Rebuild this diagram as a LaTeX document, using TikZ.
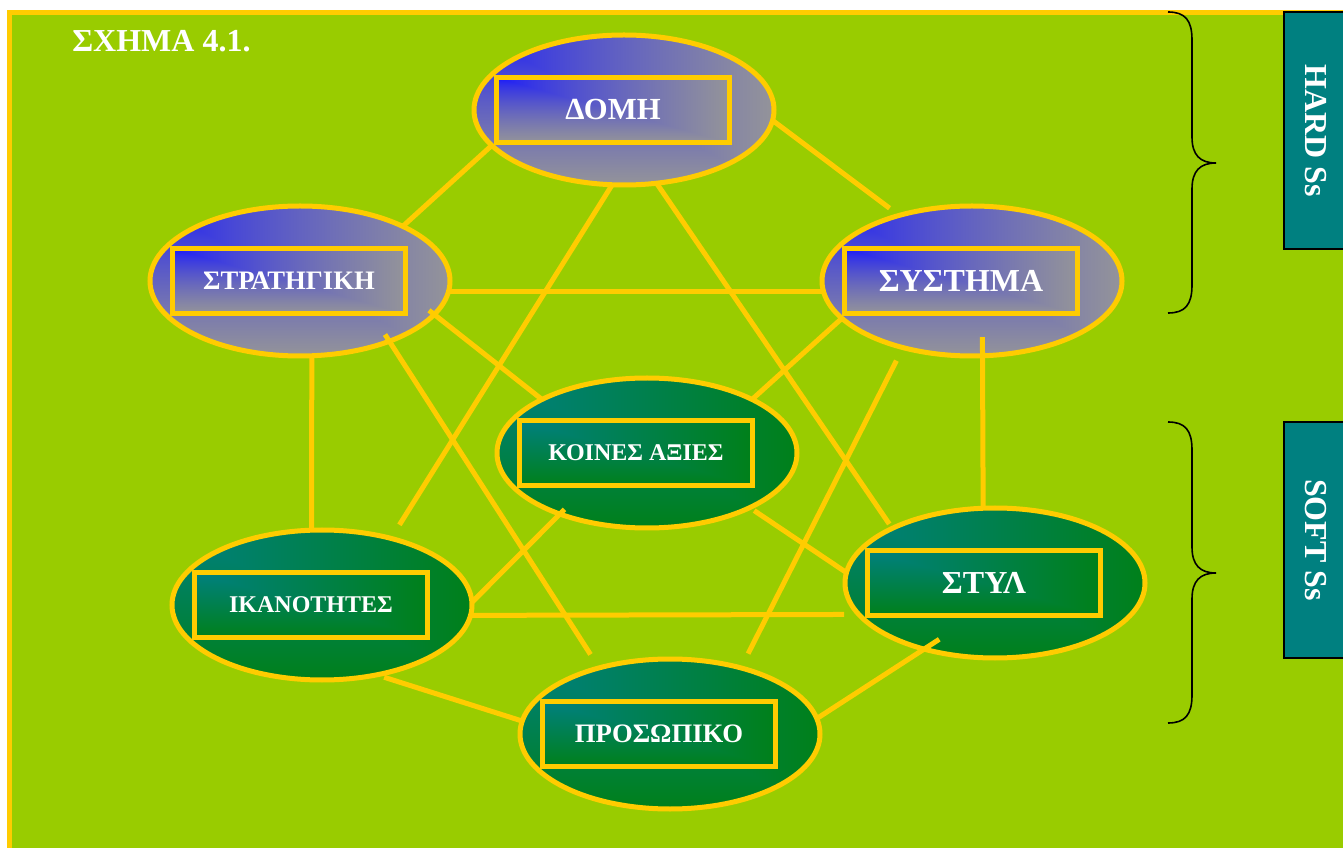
\documentclass[tikz,border=0pt]{standalone}
\usepackage{fontspec}
\setmainfont{Liberation Serif}
\usepackage{tikz}
\usetikzlibrary{shapes.geometric,calc}

\definecolor{bggreen}{HTML}{99CC00}
\definecolor{linkyellow}{HTML}{FFCC00}
\definecolor{sideteal}{HTML}{008080}

% blue corner fading to grey (upper ovals)
\pgfdeclarefunctionalshading{hardshade}{\pgfpoint{-50bp}{-50bp}}{\pgfpoint{50bp}{50bp}}{}{
  25 exch sub 50 div exch 25 add 50 div
  2 copy lt {exch} if pop
  dup 1 gt {pop 1} if dup 0 lt {pop 0} if
  0.7 exp
  dup 0.5 mul 0.08 add exch
  dup 0.5 mul 0.08 add exch
  0.4 mul 1 exch sub
}
% teal corner fading to green (lower ovals)
\pgfdeclarefunctionalshading{softshade}{\pgfpoint{-50bp}{-50bp}}{\pgfpoint{50bp}{50bp}}{}{
  25 exch sub 50 div exch 25 add 50 div
  2 copy lt {exch} if pop
  dup 1 gt {pop 1} if dup 0 lt {pop 0} if
  0 exch 0.5 exch
  0.4 mul 0.5 exch sub
}

\tikzset{
  oval/.style={ellipse, draw=linkyellow, line width=3.75pt, minimum width=225pt, minimum height=112.5pt, inner sep=0pt, outer sep=0pt, shade},
  hard/.style={oval, shading=hardshade},
  soft/.style={oval, shading=softshade},
  namebox/.style={rectangle, draw=linkyellow, line width=3.75pt, minimum width=174.75pt, minimum height=48.75pt, inner sep=0pt, outer sep=0pt, text=white, shade},
  hardbox/.style={namebox, shading=hardshade},
  softbox/.style={namebox, shading=softshade},
  link/.style={draw=linkyellow, line width=3.75pt},
  sidebox/.style={rectangle, draw=black, line width=0.8pt, fill=sideteal, text=white, rotate=-90, minimum height=48pt, inner sep=0pt, font=\fontsize{24}{24}\selectfont\bfseries},
  brace/.style={draw=black, line width=1.2pt}
}

\begin{document}
\begin{tikzpicture}[x=0.75pt, y=-0.75pt]
    \useasboundingbox (0,0) rectangle (1343,848);
    \clip (0,0) rectangle (1343,848);

    % frame
    \fill[white] (0,0) rectangle (1343,848);
    \draw[fill=bggreen, draw=linkyellow, line width=3.75pt] (9.5,12.5) rectangle (1400,900);
    \node[anchor=base west, inner sep=0pt, text=white, font=\fontsize{24}{24}\selectfont\bfseries] (title) at (72,52) {ΣΧΗΜΑ 4.1.};

    % hard Ss
    \node[hard] (domi) at (624,110) {};
    \node[hardbox, font=\fontsize{23}{23}\selectfont\bfseries] (domi text) at ($(domi)+(-11,0)$) {ΔΟΜΗ};
    \node[hard] (strat) at (300,281) {};
    \node[hardbox, font=\fontsize{20}{20}\selectfont\bfseries] (strat text) at ($(strat)+(-11,0)$) {ΣΤΡΑΤΗΓΙΚΗ};
    \node[hard] (syst) at (972,281) {};
    \node[hardbox, font=\fontsize{24}{24}\selectfont\bfseries] (syst text) at ($(syst)+(-11,0)$) {ΣΥΣΤΗΜΑ};

    % soft Ss
    \node[soft] (axies) at (647,453) {};
    \node[softbox, font=\fontsize{18}{18}\selectfont\bfseries] (axies text) at ($(axies)+(-11,0)$) {ΚΟΙΝΕΣ ΑΞΙΕΣ};
    \node[soft] (ikan) at (322,605) {};
    \node[softbox, font=\fontsize{18}{18}\selectfont\bfseries] (ikan text) at ($(ikan)+(-11,0)$) {ΙΚΑΝΟΤΗΤΕΣ};
    \node[soft] (pros) at (670,734) {};
    \node[softbox, font=\fontsize{20}{20}\selectfont\bfseries] (pros text) at ($(pros)+(-11,0)$) {ΠΡΟΣΩΠΙΚΟ};
    \node[soft] (styl) at (995,583) {};
    \node[softbox, font=\fontsize{24}{24}\selectfont\bfseries] (styl text) at ($(styl)+(-11,0)$) {ΣΤΥΛ};

    % links
    \draw[link] (domi.195) -- (strat.28);
    \draw[link, shorten >=9pt] (domi.-4) -- (syst.138);
    \draw[link, shorten >=12pt] (domi.261) -- (ikan.44);
    \draw[link, shorten >=4pt] (domi.-66) -- (styl.152);
    \draw[link] (strat.-4) -- (syst.184);
    \draw[link, shorten <=-5pt] (strat.-14) -- (axies.153);
    \draw[link, shorten <=-6pt, shorten >=12pt] (strat.-34) -- (pros.137);
    \draw[link] (strat.-81) -- (ikan.98);
    \draw[link] (syst.196) -- (axies.27);
    \draw[link, shorten <=11pt, shorten >=12pt] (syst.224) -- (pros.43);
    \draw[link, shorten <=-14pt] (syst.-82) -- (styl.99);
    \draw[link, shorten <=4pt] (axies.-28) -- (styl.176);
    \draw[link, shorten >=-5pt] (ikan.1.5) -- (axies.215);
    \draw[link, shorten >=11pt] (ikan.-4) -- (styl.193);
    \draw[link, shorten <=6pt] (ikan.-52) -- (pros.175);
    \draw[link, shorten >=-13.5pt] (pros.6) -- (styl.223);

    % braces and side labels
    \foreach \top in {12,422} {
        \draw[brace] (1168,\top) .. controls (1185,\top) and (1192,\top+8) .. (1192,\top+28)
            -- (1192,\top+125) .. controls (1192,\top+143) and (1200,\top+151) .. (1216,\top+151)
            .. controls (1200,\top+151) and (1192,\top+159) .. (1192,\top+177)
            -- (1192,\top+273) .. controls (1192,\top+293) and (1185,\top+301) .. (1168,\top+301);
    }
    \node[sidebox, minimum width=177.75pt] (hardss) at (1316,130.5) {HARD Ss};
    \node[sidebox, minimum width=177pt] (softss) at (1316,540) {SOFT Ss};
\end{tikzpicture}
\end{document}
